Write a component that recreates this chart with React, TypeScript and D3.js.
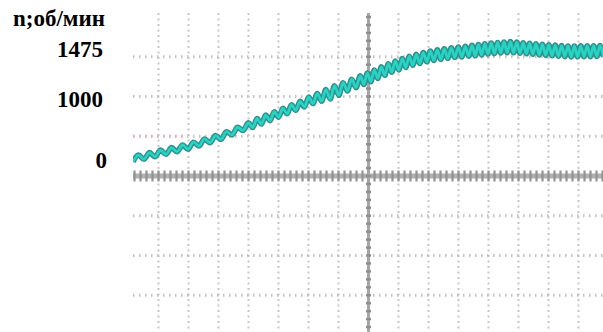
import React from "react";
import * as d3 from "d3";

// Oscillogram of motor speed during start-up (time in ms, speed in rpm)
const timeMs = [
  0, 5.5, 11, 16.5, 22, 27.5, 33, 38.5, 44, 49.5, 55, 60.5, 66, 71.5, 77, 82.5, 88, 93.5, 99, 104.5, 110, 115.5,
  119.8, 124.1, 128.4, 132.7, 137, 141.3, 145.6, 149.9, 154.2, 158.5, 162.8, 167.1, 171.4, 175.7, 180, 184.3, 188.6,
  192.9, 197.2, 201.5, 205.8, 210.1, 214.4, 218.7, 223, 227.3,
  230.8, 234.3, 237.8, 241.3, 244.8, 248.3, 251.8, 255.3, 258.8, 262.3, 265.8, 269.3, 272.8, 276.3, 279.8, 283.3,
  286.8, 290.3, 293.8, 297.3, 300.8, 304.3, 307.8, 311.3, 314.8, 318.3, 321.8, 325.3, 328.8, 332.3, 335.8,
  339, 342.2, 345.4, 348.6, 351.8, 355, 358.2, 361.4, 364.6, 367.8, 371, 374.2, 377.4, 380.6, 383.8, 387, 390.2,
  393.4, 396.6, 399.8, 403, 406.2, 409.4, 412.6, 415.8, 419, 422.2, 425.4, 428.6, 431.8, 435, 438.2, 441.4, 444.6,
  447.8, 451, 454.2, 457.4, 460.6, 463.8, 467, 470.2,
];
const speedRpm = [
  -29, 81, 11, 122, 52, 162, 93, 204, 135, 246, 177, 292, 229, 346, 283, 400, 339, 465, 411, 537, 483, 609,
  532, 680, 589, 737, 645, 793, 701, 849, 757, 906, 814, 962, 870, 1018, 925, 1053, 962, 1090, 998, 1127, 1035,
  1155, 1075, 1188, 1108, 1220,
  1137, 1246, 1164, 1276, 1195, 1306, 1225, 1336, 1253, 1361, 1276, 1384, 1299, 1407, 1320, 1424, 1337, 1441,
  1353, 1457, 1366, 1467, 1376, 1477, 1386, 1486, 1394, 1493, 1400, 1500, 1407,
  1510, 1410, 1518, 1418, 1526, 1426, 1533, 1431, 1537, 1436, 1542, 1440, 1546, 1439, 1541, 1434, 1535, 1429,
  1530, 1424, 1525, 1419, 1520, 1414, 1516, 1410, 1512, 1406, 1508, 1402, 1504, 1399, 1504, 1400, 1505, 1401,
  1506, 1402, 1507, 1403, 1508, 1404,
];
const yTickValues = [1475, 1000, 0];
const yTickLabels = ["1475", "1000", "0"];
const unitLabel = "n;об/мин";

// screen grid divisions
const timeSpan = 470;
const centreTime = 235.5;
const msPerDiv = 30;
const colDivs = d3.range(-7, 8);
const rowDivs = [-3, -2, -1, 1, 2, 3];

export default function App() {
  const W = 603;
  const H = 332;
  const left = 133;
  const top = 13;

  const x = d3.scaleLinear().domain([0, timeSpan]).range([left, W]);
  const y = d3.scaleLinear().domain([0, 1000, 1475]).range([160, 99, 49]);
  const yDiv = d3.scaleLinear().domain([-4, 4]).range([176 + 159, 176 - 159]);

  const pts: [number, number][] = timeMs.map((t, i) => [t, speedRpm[i]]);
  const line = d3
    .line<[number, number]>()
    .x((d) => x(d[0]))
    .y((d) => y(d[1]))
    .curve(d3.curveMonotoneX);
  const path = line(pts) || "";

  const xc = x(centreTime);
  const yc = yDiv(0);
  const hTicks = d3.range(-40, 41).map((k) => x(centreTime + (k * msPerDiv) / 5)).filter((v) => v >= left && v <= W);
  const vTicks = d3.range(-25, 26).map((k) => yDiv(k / 5)).filter((v) => v >= top && v <= H);

  return (
    <svg
      width={W}
      height={H}
      style={{ position: "fixed", left: 0, top: 0, background: "#fff" }}
      fontFamily="'Liberation Serif', 'Times New Roman', serif"
    >
      <defs>
        <clipPath id="plot">
          <rect x={left} y={0} width={W - left} height={H} />
        </clipPath>
      </defs>
      <rect x={0} y={0} width={W} height={H} fill="#fff" />

      {/* dotted grid */}
      <g>
        {colDivs
          .filter((k) => k !== 0)
          .map((k) => {
            const xv = x(centreTime + k * msPerDiv);
            return (
              <line
                key={"c" + k}
                x1={xv}
                x2={xv}
                y1={top}
                y2={H}
                stroke="#c6c6c6"
                strokeWidth={2}
                strokeDasharray="2 3.5"
              />
            );
          })}
        {rowDivs.map((k) => (
          <line
            key={"r" + k}
            x1={left}
            x2={W}
            y1={yDiv(k)}
            y2={yDiv(k)}
            stroke="#c2c2c2"
            strokeWidth={3}
            strokeDasharray="1.5 4.5"
          />
        ))}
        <line
          x1={left}
          x2={x(52)}
          y1={yDiv(1)}
          y2={yDiv(1)}
          stroke="#f0a8b4"
          strokeWidth={3}
          strokeDasharray="1.5 4.5"
        />
      </g>

      {/* central axes */}
      <g>
        <line x1={left} x2={W} y1={yc} y2={yc} stroke="#b0b0b0" strokeWidth={5} />
        {hTicks.map((v, i) => (
          <line key={"ht" + i} x1={v} x2={v} y1={yc - 5.5} y2={yc + 5.5} stroke="#929292" strokeWidth={2.2} />
        ))}
        <line x1={xc} x2={xc} y1={top} y2={H} stroke="#a6a6a6" strokeWidth={3} />
        {vTicks.map((v, i) => (
          <line key={"vt" + i} x1={xc - 2.5} x2={xc + 2.5} y1={v} y2={v} stroke="#8e8e8e" strokeWidth={2.5} />
        ))}
      </g>

      {/* trace */}
      <g clipPath="url(#plot)">
        <path d={path} fill="none" stroke="#2f8f8c" strokeWidth={5.5} strokeLinejoin="round" />
        <path d={path} fill="none" stroke="#27d3c2" strokeWidth={2.8} strokeLinejoin="round" />
      </g>

      {/* labels */}
      <g fontWeight="bold" fontSize={23} fill="#000">
        <text x={105} y={26} textAnchor="end">
          {unitLabel}
        </text>
        {yTickValues.map((v, i) => (
          <text key={v} x={v === 0 ? 107 : 103} y={y(v)} dy="0.33em" textAnchor="end">
            {yTickLabels[i]}
          </text>
        ))}
      </g>
    </svg>
  );
}
